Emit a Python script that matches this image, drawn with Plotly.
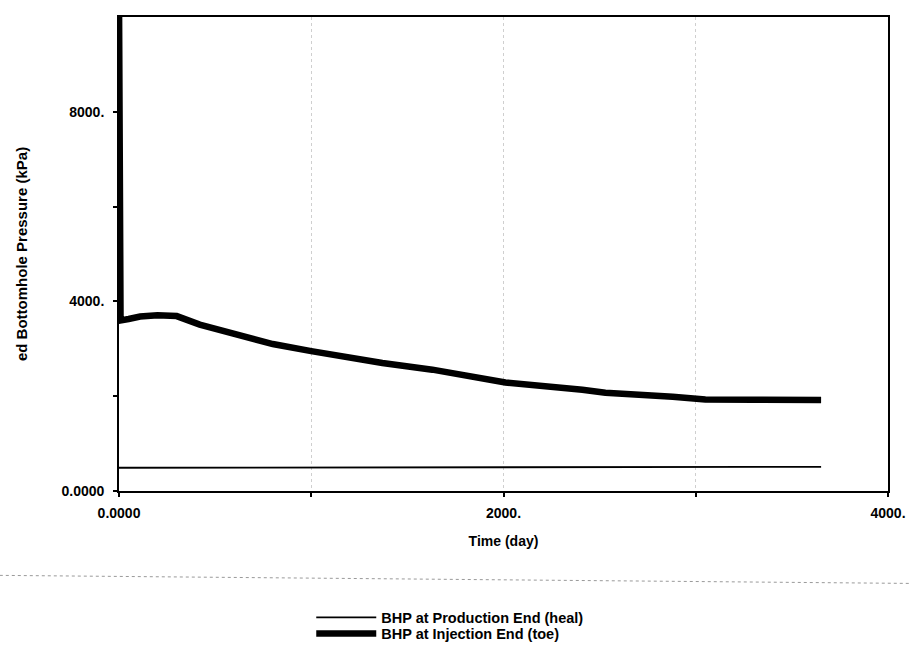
import plotly.graph_objects as go

# Data (time in days, pressure in kPa)
prod_time = [0, 1000, 2000, 3000, 3652]
prod_bhp = [490, 495, 500, 505, 510]

inj_time = [0, 1, 2, 4, 8, 50, 110, 200, 300, 420, 600, 800, 1000, 1370, 1630,
            2010, 2410, 2530, 2880, 3050, 3300, 3652]
inj_bhp = [10400, 4300, 4100, 3850, 3600, 3630, 3680, 3710, 3690, 3510, 3300, 3100,
           2950, 2700, 2560, 2290, 2135, 2075, 1990, 1930, 1925, 1920]

x_tickvals = [0, 1000, 2000, 3000, 4000]
x_ticktext = ["0.0000", "", "2000.", "", "4000."]
y_tickvals = [0, 2000, 4000, 6000, 8000]
y_ticktext = ["0.0000", "", "4000.", "", "8000."]

FONT = "Liberation Sans, Arial, sans-serif"
LEG_FONT = dict(family=FONT, size=14.5, weight="bold", color="black")

fig = go.Figure()
fig.add_trace(go.Scatter(
    x=prod_time, y=prod_bhp, mode="lines",
    name="BHP at Production End (heal)",
    line=dict(color="black", width=1.8),
    legend="legend",
))
fig.add_trace(go.Scatter(
    x=inj_time, y=inj_bhp, mode="lines",
    name="BHP at Injection End (toe)",
    line=dict(color="black", width=6.5),
    legend="legend2",
))

fig.update_layout(
    width=911, height=650,
    margin=dict(l=119, r=23, t=17, b=159, autoexpand=False),
    paper_bgcolor="white", plot_bgcolor="white",
    font=dict(family=FONT, color="black", size=13),
    showlegend=True,
    legend=dict(
        x=0.25, y=-0.233, xanchor="left", yanchor="top",
        itemwidth=60, bgcolor="rgba(0,0,0,0)", font=LEG_FONT,
    ),
    legend2=dict(
        x=0.25, y=-0.267, xanchor="left", yanchor="top",
        itemwidth=60, bgcolor="rgba(0,0,0,0)", font=LEG_FONT,
    ),
    xaxis=dict(
        range=[0, 4000], tickvals=x_tickvals, ticktext=x_ticktext,
        showline=True, linecolor="black", linewidth=1.8, mirror=True,
        ticks="outside", ticklen=4, tickcolor="black", tickwidth=1.5,
        ticklabelstandoff=4, automargin=False,
        tickfont=dict(family=FONT, size=14, weight="bold"),
        showgrid=True, gridcolor="#cfcfcf", griddash="dot", gridwidth=1,
        zeroline=False,
        title=dict(text="Time (day)", standoff=16,
                   font=dict(family=FONT, size=14, weight="bold")),
    ),
    yaxis=dict(
        range=[0, 10000], tickvals=y_tickvals, ticktext=y_ticktext,
        showline=True, linecolor="black", linewidth=1.8, mirror=True,
        ticks="outside", ticklen=4, tickcolor="black", tickwidth=1.5,
        ticklabelstandoff=6, automargin=False,
        tickfont=dict(family=FONT, size=14, weight="bold"),
        showgrid=False, zeroline=False,
        title=dict(text="ed Bottomhole Pressure (kPa)", standoff=30,
                   font=dict(family=FONT, size=15, weight="bold")),
    ),
    shapes=[dict(
        type="line", xref="paper", yref="paper",
        x0=-0.155, x1=1.03, y0=-0.178, y1=-0.195,
        line=dict(color="#9a9a9a", width=1, dash="dot"),
    )],
)

fig.write_html("out.html")
